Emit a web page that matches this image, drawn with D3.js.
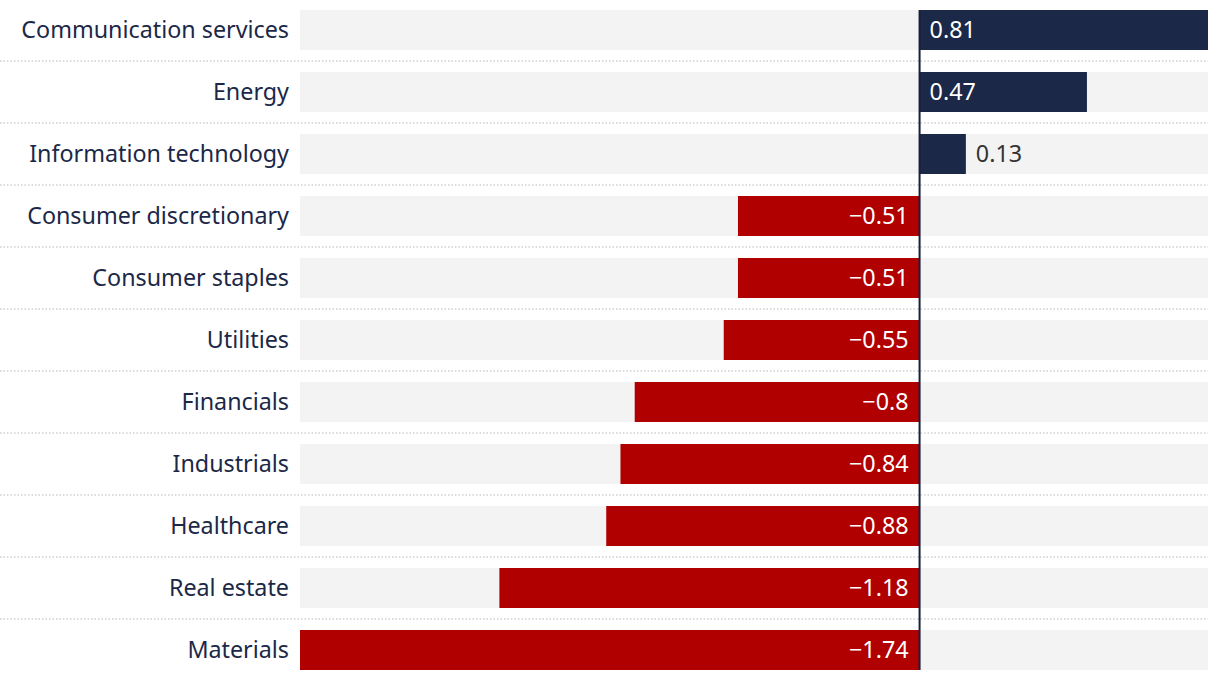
<!DOCTYPE html>
<html><head><meta charset="utf-8">
<script src="https://cdn.jsdelivr.net/npm/d3@7"></script>
<style>
html,body{margin:0;padding:0;background:#fff;}
svg{display:block;}
text{font-family:"Noto Sans",sans-serif;}
</style></head>
<body>
<svg id="chart" width="1220" height="680"></svg>
<script>
const categories = ["Communication services","Energy","Information technology","Consumer discretionary","Consumer staples","Utilities","Financials","Industrials","Healthcare","Real estate","Materials"];
const values = [0.81,0.47,0.13,-0.51,-0.51,-0.55,-0.8,-0.84,-0.88,-1.18,-1.74];
const labels = ["0.81","0.47","0.13","\u22120.51","\u22120.51","\u22120.55","\u22120.8","\u22120.84","\u22120.88","\u22121.18","\u22121.74"];

const W = 1220, H = 680;
const svg = d3.select("#chart");
const x = d3.scaleLinear().domain([-1.74, 0.81]).range([300, 1208]);
const y = d3.scaleBand().domain(categories).range([10, 670]).paddingInner(22/62).paddingOuter(0);
const data = categories.map((c,i)=>({c, v: values[i], l: labels[i]}));
const fs = 23.3;

// separators
const step = y.step();
svg.append("g").selectAll("line").data(categories.slice(0,-1)).join("line")
  .attr("x1", 0).attr("x2", 1208)
  .attr("y1", d => y(d) + y.bandwidth() + (step - y.bandwidth())/2)
  .attr("y2", d => y(d) + y.bandwidth() + (step - y.bandwidth())/2)
  .attr("stroke", "#cfcfcf").attr("stroke-width", 1.5).attr("stroke-dasharray", "1.5,2");

// backgrounds
svg.append("g").selectAll("rect").data(data).join("rect")
  .attr("x", x.range()[0]).attr("width", x.range()[1]-x.range()[0])
  .attr("y", d => y(d.c)).attr("height", y.bandwidth()).attr("fill", "#f3f3f3");

// bars
svg.append("g").selectAll("rect").data(data).join("rect")
  .attr("x", d => x(Math.min(0,d.v))).attr("width", d => Math.abs(x(d.v)-x(0)))
  .attr("y", d => y(d.c)).attr("height", y.bandwidth())
  .attr("fill", d => d.v >= 0 ? "#1b2847" : "#b00000");

// zero line
svg.append("line").attr("x1", x(0)).attr("x2", x(0)).attr("y1", 10).attr("y2", 670)
  .attr("stroke", "#16203a").attr("stroke-width", 2);

// category labels
svg.append("g").selectAll("text").data(data).join("text")
  .attr("x", 289).attr("y", d => y(d.c) + y.bandwidth()/2).attr("dy", "0.35em")
  .attr("text-anchor", "end").attr("font-size", fs).attr("fill", "#1b2847")
  .text(d => d.c);

// value labels
svg.append("g").selectAll("text").data(data).join("text")
  .each(function(d){
    const t = d3.select(this);
    const inside = Math.abs(x(d.v)-x(0)) > 60;
    let xp, anchor, col;
    if (d.v >= 0) {
      xp = inside ? x(0) + 10 : x(d.v) + 10; anchor = "start"; col = inside ? "#fff" : "#333";
    } else {
      xp = inside ? x(0) - 11 : x(d.v) - 10; anchor = "end"; col = inside ? "#fff" : "#333";
    }
    t.attr("x", xp).attr("y", y(d.c) + y.bandwidth()/2).attr("dy", "0.35em")
     .attr("text-anchor", anchor).attr("fill", col).attr("font-size", fs).text(d.l);
  });
</script>
</body></html>
